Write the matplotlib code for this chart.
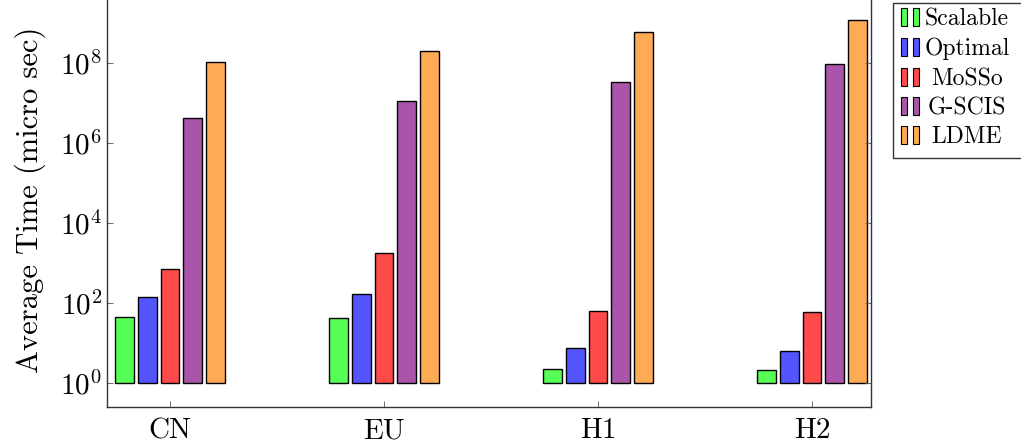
import matplotlib.pyplot as plt
from matplotlib.patches import Rectangle
import numpy as np

plt.rcParams['font.family'] = ['cmr10', 'DejaVu Serif']
plt.rcParams['mathtext.fontset'] = 'cm'
plt.rcParams['axes.formatter.use_mathtext'] = True

datasets = ['CN', 'EU', 'H1', 'H2']
methods = ['Scalable', 'Optimal', 'MoSSo', 'G-SCIS', 'LDME']
colors = ['#55ff55', '#5555ff', '#ff4a4a', '#aa55aa', '#ffaa55']

scalable = [45, 42, 2.2, 2.1]
optimal = [141, 167, 7.5, 6.3]
mosso = [708, 1780, 63, 60]
gscis = [4.2e6, 1.12e7, 3.3e7, 9.5e7]
ldme = [1.05e8, 2.0e8, 6.0e8, 1.2e9]
series = [scalable, optimal, mosso, gscis, ldme]

fw, fh = 1021.0, 448.0
fig = plt.figure(figsize=(10.21, 4.48), dpi=100)
# axes runs a little past the top edge of the figure
ax = fig.add_axes([107 / fw, 41 / fh, 764 / fw, 414 / fh])

x = np.arange(len(datasets))
pitch = 0.106
width = 0.088
for k, (vals, c) in enumerate(zip(series, colors)):
    off = (k - 2) * pitch
    ax.bar(x + off, np.array(vals) - 1, width, bottom=1, color=c,
           edgecolor='black', linewidth=1.0)

ax.set_yscale('log')
ax.set_ylim(10 ** -0.6, 10 ** 9.75)
ax.set_xlim(-0.294, 3.276)
ax.set_yticks([1, 1e2, 1e4, 1e6, 1e8])
ax.set_yticklabels([r'$10^{%d}$' % p for p in [0, 2, 4, 6, 8]])
ax.minorticks_off()
ax.set_xticks(x)
ax.set_xticklabels(datasets)
ax.tick_params(axis='both', direction='in', labelsize=21, length=4,
               width=0.6, color='#555555')
ax.tick_params(axis='y', right=True)
ax.tick_params(axis='x', pad=8)
ax.set_ylabel('Average Time (micro sec)', fontsize=22, labelpad=10)
for s in ax.spines.values():
    s.set_linewidth(1.0)
    s.set_color('#333333')

# legend drawn by hand: two small bars per entry, centred label
fig.patches.append(Rectangle((893 / fw, 1 - 158 / fh), 140 / fw, 155 / fh,
                             transform=fig.transFigure, facecolor='white',
                             edgecolor='#333333', linewidth=1.0, zorder=5))
row_y = [17, 47, 77, 106, 135]
for m, c, yy in zip(methods, colors, row_y):
    for bx in (901, 913):
        fig.patches.append(Rectangle((bx / fw, 1 - (yy + 9) / fh), 6 / fw, 18 / fh,
                                     transform=fig.transFigure, facecolor=c,
                                     edgecolor='black', linewidth=0.8, zorder=6))
    fig.text(967 / fw, 1 - (yy + 2) / fh, m, ha='center', va='center',
             fontsize=17, zorder=7)

fig.savefig('out.png', dpi=100)
